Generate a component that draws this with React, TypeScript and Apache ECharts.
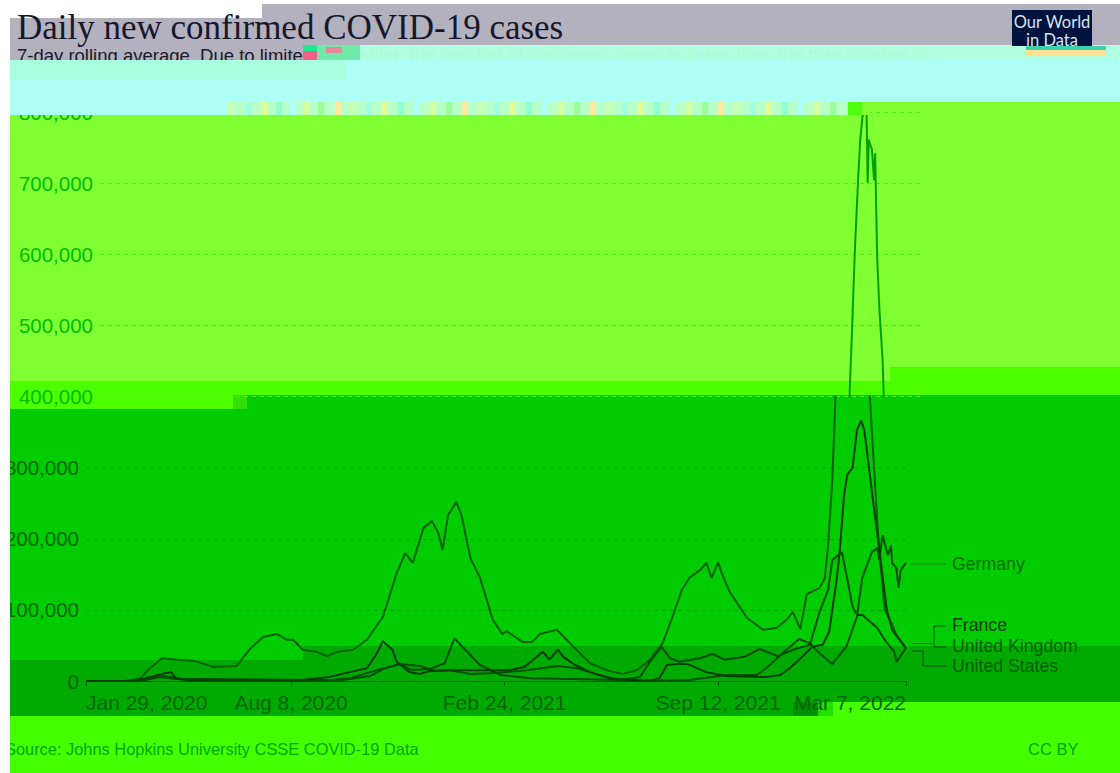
import React, { useEffect, useRef } from "react";
import * as echarts from "echarts";

const tickDays = [0, 192, 392, 592, 768];
const tickLabels = ["Jan 29, 2020", "Aug 8, 2020", "Feb 24, 2021", "Sep 12, 2021", "Mar 7, 2022"];

const usDays = [0,37,51,60,71,86,102,119,141,154,166,179,188,194,203,216,226,235,250,263,278,291,299,306,316,324,330,334,339,347,352,360,369,381,390,394,409,418,425,441,456,472,490,503,516,528,540,550,558,565,575,581,586,592,595,603,619,634,647,656,662,669,675,687,692,695,699,702,704,707,710,712,715,718,719,720,723,725,726,727,728,730,733,734,741,743,748,753,759,768];
const usCases = [0,0,4000,18000,32000,30000,28000,20000,21000,46000,62000,66000,58000,58000,44000,41000,35000,41000,44000,58000,90000,152000,180000,166000,215000,225000,208000,184000,233000,252000,231000,173000,145000,86000,66000,70000,55000,55000,66000,72000,49000,25000,14000,10000,15000,30000,53000,93000,128000,145000,156000,166000,145000,167000,153000,125000,89000,72000,75000,86000,97000,73000,122000,131000,145000,191000,283000,402000,480000,606000,704000,761000,806000,796000,700000,761000,747000,704000,742000,662000,592000,522000,451000,402000,226000,181000,100000,86000,65000,46000];

const deDays = [0,51,69,81,97,238,266,280,294,313,327,341,360,378,406,422,441,460,481,500,519,565,600,628,637,656,668,678,687,699,712,722,727,736,741,743,746,751,754,755,759,761,763,768];
const deCases = [0,0,7000,5500,1000,1000,7000,18000,24000,21000,14000,15000,10000,11000,14000,17000,21000,18000,8500,1500,500,1500,8500,8500,18000,44000,59000,53000,39000,24000,48000,90000,145000,181000,187000,170000,205000,177000,191000,166000,159000,131000,156000,166000];

const frDays = [0,46,60,74,80,84,97,200,228,247,263,272,278,287,291,303,313,322,338,369,397,411,428,434,442,447,458,472,490,509,528,537,544,553,563,581,600,637,650,659,668,680,690,696,703,706,710,713,718,722,726,729,737,743,750,755,768];
const frCases = [0,0,5500,11000,12500,3000,1000,1000,5500,12500,18000,38000,56000,44000,27000,12500,10000,14000,15000,15000,15000,20000,41000,30000,44000,34000,22500,12500,4000,1500,500,4000,22500,24000,24000,12500,7000,5500,8500,18000,30000,48000,51000,69000,142000,184000,262000,290000,300000,353000,366000,353000,255000,184000,100000,72000,46000];

const ukDays = [0,51,69,83,228,247,266,285,294,305,322,336,345,360,369,388,416,444,500,519,528,539,547,556,575,587,598,617,631,648,662,678,687,695,699,708,715,718,722,727,741,748,757,759,768];
const ukCases = [0,0,5500,3000,1000,4000,12500,20000,24000,15500,17000,25000,60000,36500,22500,8500,4000,3000,1500,5500,27000,48000,32000,27000,32000,38000,30000,34000,45000,35000,44000,51000,97000,128000,170000,181000,128000,104000,93000,93000,75000,58000,41000,27000,46000];

const zip = (d: number[], v: number[]) => d.map((x, i) => [x, v[i]]);
const fmt = (v: number) => v.toLocaleString("en-US");

const FONT = '"Liberation Sans", Arial, sans-serif';

const rect = (x: number, y: number, w: number, h: number, fill: string, z: number) => ({
  type: "rect", z, silent: true, shape: { x, y, width: w, height: h }, style: { fill },
});
const text = (x: number, y: number, t: string, size: number, fill: string, z: number, extra: any = {}) => ({
  type: "text", z, silent: true, x, y,
  style: { text: t, fontSize: size, fontFamily: FONT, fill, textVerticalAlign: "middle", ...extra },
});
const poly = (pts: number[][], stroke: string, z: number) => ({
  type: "polyline", z, silent: true, shape: { points: pts }, style: { stroke, lineWidth: 1, fill: "none" },
});

const BG = -10, TOP = 40, TXT = 50;
const noiseColors = ["#c8ffb0", "#a0ffe0", "#e0ff90", "#90ffd0", "#b0ffff", "#d8ffa0", "#9cff9c", "#ffe8a0"];
const noiseStarts = [228, 246, 262, 276, 290, 304, 318, 335, 350, 366, 382, 398, 414, 430, 446, 462, 478, 494, 510, 526, 542, 558, 574, 590, 606, 622, 638, 654, 670, 686, 702, 718, 734, 750, 766, 782, 798, 814, 830];

const graphics: any[] = [
  // backdrop bands
  rect(10, 115, 1110, 266, "#80ff33", BG),
  rect(848, 102, 272, 265, "#80ff33", BG),
  rect(10, 381, 237, 28, "#4cff00", BG),
  rect(247, 381, 873, 14, "#4cff00", BG),
  rect(890, 367, 230, 14, "#4cff00", BG),
  rect(247, 395, 873, 251, "#00cc00", BG),
  rect(10, 409, 237, 251, "#00cc00", BG),
  rect(247, 409, 56, 251, "#00cc00", BG),
  rect(233, 395, 14, 14, "#30e000", BG),
  rect(10, 660, 293, 56, "#00aa00", BG),
  rect(303, 646, 817, 56, "#00aa00", BG),
  rect(303, 702, 490, 14, "#00aa00", BG),
  rect(833, 702, 287, 14, "#44ff00", BG),
  rect(10, 716, 1110, 57, "#44ff00", BG),
  rect(793, 702, 25, 14, "#009000", BG),
  rect(818, 702, 15, 14, "#20e000", BG),
  // covers above the plot
  rect(10, 4, 1110, 41, "#b3b1be", TOP),
  rect(10, 45, 293, 15, "#b3b1be", TOP),
  rect(303, 45, 57, 15, "#6fe8a8", TOP + 2),
  rect(303, 45, 14, 6, "#20e890", TOP + 3),
  rect(303, 51, 14, 9, "#f06088", TOP + 3),
  rect(326, 47, 16, 6, "#e88898", TOP + 3),
  rect(360, 45, 760, 15, "#b0ffe0", TOP),
  rect(10, 60, 335, 20, "#a8ffe0", TOP + 2),
  rect(345, 60, 775, 20, "#adfff5", TOP + 2),
  rect(10, 80, 1110, 22, "#adfff5", TOP),
  rect(10, 102, 218, 13, "#adfff5", TOP),
  rect(228, 102, 620, 13, "#b8ffc8", TOP),
  ...noiseStarts.map((x, i) => rect(x, 102, 6, 13, noiseColors[i % noiseColors.length], TOP + 1)),
  rect(848, 102, 14, 13, "#50ff10", TOP + 1),
  rect(862, 103, 8, 12, "#80ff33", TOP + 1),
  rect(0, 0, 1120, 4, "#ffffff", TOP + 5),
  rect(10, 4, 252, 14, "#ffffff", TOP + 5),
  rect(0, 0, 10, 773, "#ffffff", TOP + 5),
  // logo
  rect(1012, 10, 80, 36, "#00123e", TOP + 6),
  rect(1026, 46, 80, 4, "#40d0b0", TOP + 6),
  rect(1026, 50, 80, 6, "#ffe090", TOP + 6),
  text(1052, 22, "Our World", 16.5, "#d8e4f0", TXT, { textAlign: "center", fontFamily: "Lato" }),
  text(1052, 40, "in Data", 16.5, "#d8e4f0", TXT, { textAlign: "center", fontFamily: "Lato" }),
  // headings
  text(17, 27, "Daily new confirmed COVID-19 cases", 35, "#17172c", TXT, { fontFamily: '"Liberation Serif", serif' }),
  text(17, 55, "7-day rolling average. Due to limited", 18.5, "#1a1a2a", TOP + 1),
  text(360, 54, "sting, the number of confirmed cases is lower than the true number of", 18.5, "#a6ffd2", TOP + 1),
  // footer
  text(5, 749, "Source: Johns Hopkins University CSSE COVID-19 Data", 16.4, "#00a800", TOP),
  text(1028, 749, "CC BY", 16.5, "#00a800", TXT),
  // series labels
  text(952, 564, "Germany", 17.7, "#007000", TXT),
  text(952, 625, "France", 17.7, "#003c00", TXT),
  text(952, 646, "United Kingdom", 17.7, "#006000", TXT),
  text(952, 666, "United States", 17.7, "#006000", TXT),
  poly([[911, 564], [946, 564]], "#008800", TXT),
  poly([[912, 643.5], [934, 643.5]], "#006000", TXT),
  poly([[946, 626], [934, 626], [934, 647], [946, 647]], "#005000", TXT),
  poly([[912, 651], [923, 651], [923, 666], [946, 666]], "#005000", TXT),
];

const lowerLine = (name: string, days: number[], cases: number[], color: string) => ({
  name, type: "line", xAxisIndex: 0, yAxisIndex: 0, data: zip(days, cases),
  showSymbol: false, smooth: false, lineStyle: { width: 2, color },
});

export default function App() {
  const ref = useRef<HTMLDivElement>(null);
  useEffect(() => {
    document.body.style.margin = "0";
    const chart = echarts.init(ref.current!, undefined, { renderer: "svg" });
    chart.setOption({
      animation: false,
      backgroundColor: "#ffffff",
      tooltip: { show: false },
      grid: [
        { left: 86, top: 396.6, width: 820, height: 284.4 },
        { left: 100, top: 112, width: 820, height: 284.6 },
      ],
      xAxis: [
        {
          type: "value", gridIndex: 0, min: 0, max: 768,
          splitLine: { show: false },
          axisLine: { show: true, lineStyle: { color: "#005800", width: 1 } },
          axisTick: { show: true, length: 5, customValues: tickDays, lineStyle: { color: "#005800" } },
          axisLabel: {
            customValues: tickDays, fontSize: 21, fontFamily: FONT, color: "#006600", margin: 11,
            alignMinLabel: "left", alignMaxLabel: "right",
            formatter: (v: number) => tickLabels[tickDays.indexOf(v)] ?? "",
          },
        },
        {
          type: "value", gridIndex: 1, min: 0, max: 768, show: false, splitLine: { show: false },
        },
      ],
      yAxis: [
        {
          type: "value", gridIndex: 0, min: 0, max: 400000, interval: 100000,
          axisLine: { show: false }, axisTick: { show: false },
          splitLine: { show: true, showMaxLine: false, lineStyle: { type: [4, 4], color: "#00a200", width: 1 } },
          axisLabel: {
            showMaxLabel: false, fontSize: 20.5, fontFamily: FONT, color: "#006800", margin: 7,
            formatter: (v: number) => fmt(v),
          },
        },
        {
          type: "value", gridIndex: 1, min: 400000, max: 800000, interval: 100000,
          axisLine: { show: false }, axisTick: { show: false },
          splitLine: { show: true, lineStyle: { type: [4, 4], color: "#58e818", width: 1 } },
          axisLabel: {
            fontSize: 20.5, fontFamily: FONT, margin: 7,
            color: (v: number) => (v === 400000 ? "#008c00" : "#00bc00"),
            formatter: (v: number) => fmt(v),
          },
        },
      ],
      series: [
        lowerLine("United States", usDays, usCases, "#006200"),
        lowerLine("Germany", deDays, deCases, "#005200"),
        lowerLine("United Kingdom", ukDays, ukCases, "#004c00"),
        lowerLine("France", frDays, frCases, "#003c00"),
        {
          name: "United States", type: "line", xAxisIndex: 1, yAxisIndex: 1, data: zip(usDays, usCases),
          showSymbol: false, smooth: false, lineStyle: { width: 2, color: "#00a000" },
        },
      ],
      graphic: { elements: graphics },
    });
    return () => chart.dispose();
  }, []);
  return <div ref={ref} style={{ position: "absolute", left: 0, top: 0, width: 1120, height: 773 }} />;
}
